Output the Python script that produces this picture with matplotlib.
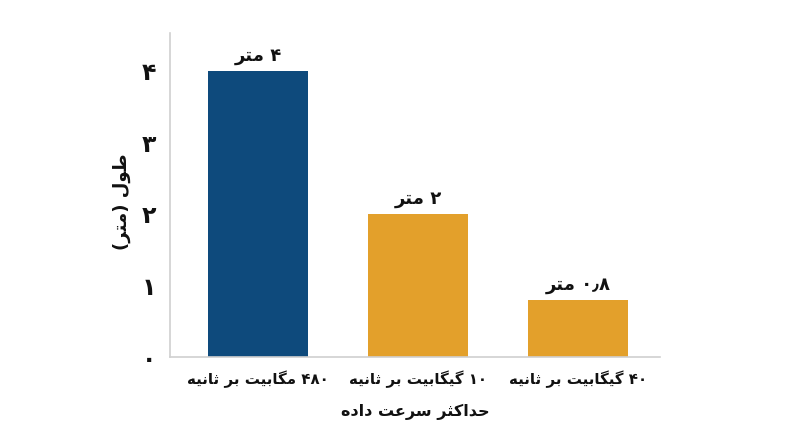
import matplotlib
matplotlib.use("Agg")
import matplotlib.pyplot as plt

# ---------------- data ----------------
categories = ["۴۸۰ مگابیت بر ثانیه", "۱۰ گیگابیت بر ثانیه", "۴۰ گیگابیت بر ثانیه"]
values = [4, 2, 0.8]
value_labels = ["۴ متر", "۲ متر", "۰٫۸ متر"]
y_ticks = [0, 1, 2, 3, 4]
y_tick_labels = ["۰", "۱", "۲", "۳", "۴"]
x_title = "حداکثر سرعت داده"
y_title = "طول (متر)"
bar_colors = ["#0e4a7c", "#e3a02b", "#e3a02b"]

# ---------------- simple Persian shaping + bidi ----------------
FORMS = {
    # char: (isolated, final, initial, medial)
    'ا': ('\uFE8D', '\uFE8E', None, None),
    'آ': ('\uFE81', '\uFE82', None, None),
    'ب': ('\uFE8F', '\uFE90', '\uFE91', '\uFE92'),
    'پ': ('\uFB56', '\uFB57', '\uFB58', '\uFB59'),
    'ت': ('\uFE95', '\uFE96', '\uFE97', '\uFE98'),
    'ث': ('\uFE99', '\uFE9A', '\uFE9B', '\uFE9C'),
    'ج': ('\uFE9D', '\uFE9E', '\uFE9F', '\uFEA0'),
    'چ': ('\uFB7A', '\uFB7B', '\uFB7C', '\uFB7D'),
    'ح': ('\uFEA1', '\uFEA2', '\uFEA3', '\uFEA4'),
    'خ': ('\uFEA5', '\uFEA6', '\uFEA7', '\uFEA8'),
    'د': ('\uFEA9', '\uFEAA', None, None),
    'ذ': ('\uFEAB', '\uFEAC', None, None),
    'ر': ('\uFEAD', '\uFEAE', None, None),
    'ز': ('\uFEAF', '\uFEB0', None, None),
    'ژ': ('\uFB8A', '\uFB8B', None, None),
    'س': ('\uFEB1', '\uFEB2', '\uFEB3', '\uFEB4'),
    'ش': ('\uFEB5', '\uFEB6', '\uFEB7', '\uFEB8'),
    'ص': ('\uFEB9', '\uFEBA', '\uFEBB', '\uFEBC'),
    'ض': ('\uFEBD', '\uFEBE', '\uFEBF', '\uFEC0'),
    'ط': ('\uFEC1', '\uFEC2', '\uFEC3', '\uFEC4'),
    'ظ': ('\uFEC5', '\uFEC6', '\uFEC7', '\uFEC8'),
    'ع': ('\uFEC9', '\uFECA', '\uFECB', '\uFECC'),
    'غ': ('\uFECD', '\uFECE', '\uFECF', '\uFED0'),
    'ف': ('\uFED1', '\uFED2', '\uFED3', '\uFED4'),
    'ق': ('\uFED5', '\uFED6', '\uFED7', '\uFED8'),
    'ک': ('\uFB8E', '\uFB8F', '\uFB90', '\uFB91'),
    'گ': ('\uFB92', '\uFB93', '\uFB94', '\uFB95'),
    'ل': ('\uFEDD', '\uFEDE', '\uFEDF', '\uFEE0'),
    'م': ('\uFEE1', '\uFEE2', '\uFEE3', '\uFEE4'),
    'ن': ('\uFEE5', '\uFEE6', '\uFEE7', '\uFEE8'),
    'ه': ('\uFEE9', '\uFEEA', '\uFEEB', '\uFEEC'),
    'و': ('\uFEED', '\uFEEE', None, None),
    'ی': ('\uFBFC', '\uFBFD', '\uFBFE', '\uFBFF'),
}


def _dual(c):
    return c in FORMS and FORMS[c][2] is not None


def shape(text):
    out = []
    n = len(text)
    for i, c in enumerate(text):
        if c not in FORMS:
            out.append(c)
            continue
        prev = text[i - 1] if i > 0 else ''
        nxt = text[i + 1] if i < n - 1 else ''
        join_prev = _dual(prev)
        join_next = _dual(c) and (nxt in FORMS)
        iso, fin, ini, med = FORMS[c]
        if join_prev and join_next:
            out.append(med)
        elif join_prev:
            out.append(fin)
        elif join_next:
            out.append(ini)
        else:
            out.append(iso)
    return ''.join(out)


DIGITS = set('۰۱۲۳۴۵۶۷۸۹0123456789٫.,')
MIRROR = {'(': ')', ')': '('}


def rtl(text):
    s = shape(text)
    tokens = []
    i = 0
    while i < len(s):
        if s[i] in DIGITS:
            j = i
            while j < len(s) and s[j] in DIGITS:
                j += 1
            tokens.append(s[i:j])
            i = j
        else:
            tokens.append(MIRROR.get(s[i], s[i]))
            i += 1
    return ''.join(reversed(tokens))


# ---------------- plot ----------------
plt.rcParams['font.family'] = ['DejaVu Sans']

fig = plt.figure(figsize=(8.0, 4.47), dpi=100)
ax = fig.add_axes([0.2125, 0.2013, 0.6125, 0.7247])

x = list(range(len(categories)))
bars = ax.bar(x, values, width=0.625, color=bar_colors, zorder=2)

for b, lab in zip(bars, value_labels):
    ax.annotate(rtl(lab), (b.get_x() + b.get_width() / 2, b.get_height()),
                xytext=(0, 4), textcoords='offset points',
                ha='center', va='bottom', fontsize=13, fontweight='bold',
                color='#111111')

ax.set_xlim(-0.55, 2.51)
ax.set_ylim(0, 4.53)

ax.set_yticks(y_ticks)
ax.set_yticklabels([rtl(t) for t in y_tick_labels], fontsize=17,
                   fontweight='bold', color='#111111')
ax.set_xticks(x)
ax.set_xticklabels([rtl(c) for c in categories], fontsize=10.8,
                   fontweight='bold', color='#111111')
ax.tick_params(axis='y', length=0, pad=10)
ax.tick_params(axis='x', length=0, pad=10)

ax.set_xlabel(rtl(x_title), fontsize=11.5, fontweight='bold', labelpad=11,
              color='#111111')
ax.set_ylabel(rtl(y_title), fontsize=13, fontweight='bold',
              color='#111111')
ax.yaxis.set_label_coords(-0.08, 0.48)

for side in ('top', 'right'):
    ax.spines[side].set_visible(False)
for side in ('left', 'bottom'):
    ax.spines[side].set_color('#d0d0d0')
    ax.spines[side].set_linewidth(1.2)

fig.savefig('out.png', dpi=100)
